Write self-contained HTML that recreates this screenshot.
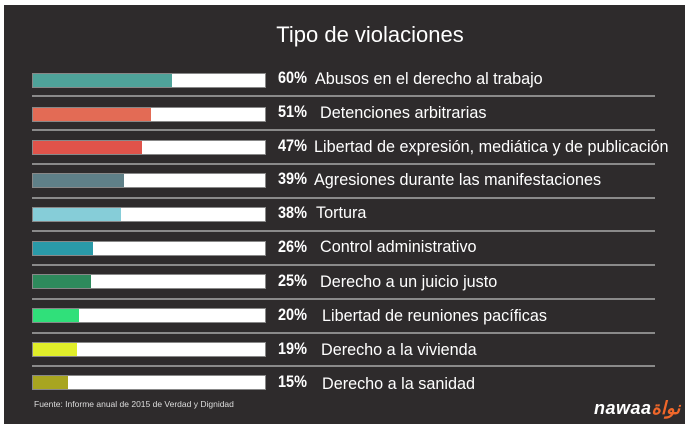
<!DOCTYPE html>
<html><head><meta charset="utf-8"><style>
body{margin:0;width:689px;height:433px;background:#fff;position:relative;overflow:hidden;font-family:"Liberation Sans",sans-serif}
#p{position:absolute;left:4px;top:5px;width:681px;height:419px;background:#2e2b2c}
.t{position:absolute;left:0;width:740px;top:22px;text-align:center;color:#fff;font-size:22px}
.bar{position:absolute;left:32px;width:232px;height:13px;background:#fff;border:1px solid #888;box-sizing:content-box}
.bar i{position:absolute;left:0;top:0;bottom:0}
.ln{position:absolute;left:32px;width:623px;height:2px;background:#8a8a8a}
.pc{position:absolute;left:278px;color:#fff;font-weight:bold;font-size:17px;font-family:"Liberation Sans Narrow","Liberation Sans",sans-serif;transform:scaleX(.85);transform-origin:left}
.lb{position:absolute;color:#fff;font-size:16.2px;margin-top:1px}
.src{position:absolute;left:34px;top:399px;color:#ddd;font-size:8.5px}
.logo{position:absolute;left:594px;top:398px;color:#fff;font-style:italic;font-weight:bold;font-size:18px;letter-spacing:0.5px}
.logo span{color:#f0672a}
</style></head><body>
<div id="p"></div>
<div class="t">Tipo de violaciones</div>

<div class="bar" style="top:73px"><i style="width:139px;background:#4fa39a"></i></div>
<div class="pc" style="top:68px">60%</div><div class="lb" style="left:315px;top:69px">Abusos en el derecho al trabajo</div>
<div class="ln" style="top:95px"></div>

<div class="bar" style="top:107px"><i style="width:118px;background:#e36b55"></i></div>
<div class="pc" style="top:102px">51%</div><div class="lb" style="left:320px;top:103px">Detenciones arbitrarias</div>
<div class="ln" style="top:129px"></div>

<div class="bar" style="top:140px"><i style="width:109px;background:#e0534a"></i></div>
<div class="pc" style="top:136px">47%</div><div class="lb" style="left:314px;top:137px">Libertad de expresión, mediática y de publicación</div>
<div class="ln" style="top:163px"></div>

<div class="bar" style="top:173px"><i style="width:91px;background:#5f8088"></i></div>
<div class="pc" style="top:169px">39%</div><div class="lb" style="left:314px;top:170px">Agresiones durante las manifestaciones</div>
<div class="ln" style="top:197px"></div>

<div class="bar" style="top:207px"><i style="width:88px;background:#86cdd8"></i></div>
<div class="pc" style="top:203px">38%</div><div class="lb" style="left:316px;top:203px">Tortura</div>
<div class="ln" style="top:230px"></div>

<div class="bar" style="top:241px"><i style="width:60px;background:#2a9aa8"></i></div>
<div class="pc" style="top:237px">26%</div><div class="lb" style="left:320px;top:237px">Control administrativo</div>
<div class="ln" style="top:264px"></div>

<div class="bar" style="top:274px"><i style="width:58px;background:#2e8a5c"></i></div>
<div class="pc" style="top:271px">25%</div><div class="lb" style="left:320px;top:272px">Derecho a un juicio justo</div>
<div class="ln" style="top:298px"></div>

<div class="bar" style="top:308px"><i style="width:46px;background:#30e07a"></i></div>
<div class="pc" style="top:305px">20%</div><div class="lb" style="left:322px;top:306px">Libertad de reuniones pacíficas</div>
<div class="ln" style="top:332px"></div>

<div class="bar" style="top:342px"><i style="width:44px;background:#e0ee2a"></i></div>
<div class="pc" style="top:339px">19%</div><div class="lb" style="left:321px;top:340px">Derecho a la vivienda</div>
<div class="ln" style="top:365px"></div>

<div class="bar" style="top:375px"><i style="width:35px;background:#a8a520"></i></div>
<div class="pc" style="top:372px">15%</div><div class="lb" style="left:322px;top:374px">Derecho a la sanidad</div>

<div class="src">Fuente: Informe anual de 2015 de Verdad y Dignidad</div>
<div class="logo">nawaa<span>نواة</span></div>
</body></html>
